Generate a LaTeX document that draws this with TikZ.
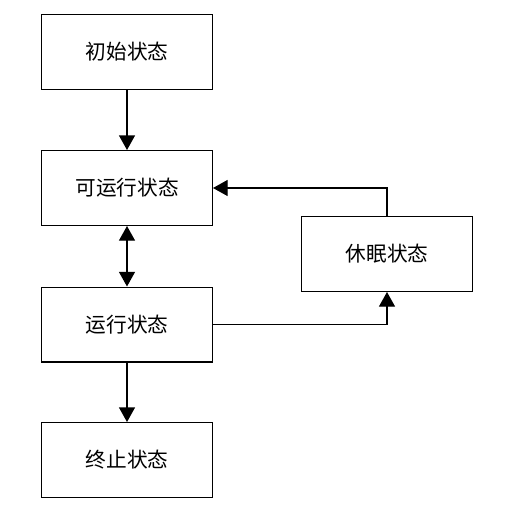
\documentclass[tikz,border=0pt]{standalone}
\usepackage{fontspec}
\newfontfamily\cjk{Noto Sans CJK SC}
\usetikzlibrary{arrows.meta}
\tikzset{every picture/.style={line width=1pt}}
\tikzset{state/.style={draw, minimum width=128pt, minimum height=56pt, inner sep=0pt, font=\cjk\fontsize{15.5}{18}\selectfont},
  flow/.style={-{Triangle[width=12pt,length=11pt]}},
  bothflow/.style={{Triangle[width=12pt,length=11pt]}-{Triangle[width=12pt,length=11pt]}}}
\begin{document}
\begin{tikzpicture}[x=0.75pt,y=0.75pt,yscale=-1,xscale=1]
\useasboundingbox (0,0) rectangle (528,519);

% State boxes
\node [state] (init) at (127,52) {初始状态};
\node [state] (ready) at (127,188) {可运行状态};
\node [state] (run) at (127,324.5) {运行状态};
\node [state] (stop) at (127,460) {终止状态};
\node [state] (sleep) at (387,254) {休眠状态};

% Transitions
\draw [flow] (init) -- (ready);
\draw [bothflow] (ready) -- (run);
\draw [flow] (run) -- (stop);
\draw [flow] (run.east) -| (sleep.south);
\draw [flow] (sleep.north) |- (ready.east);

\end{tikzpicture}
\end{document}
